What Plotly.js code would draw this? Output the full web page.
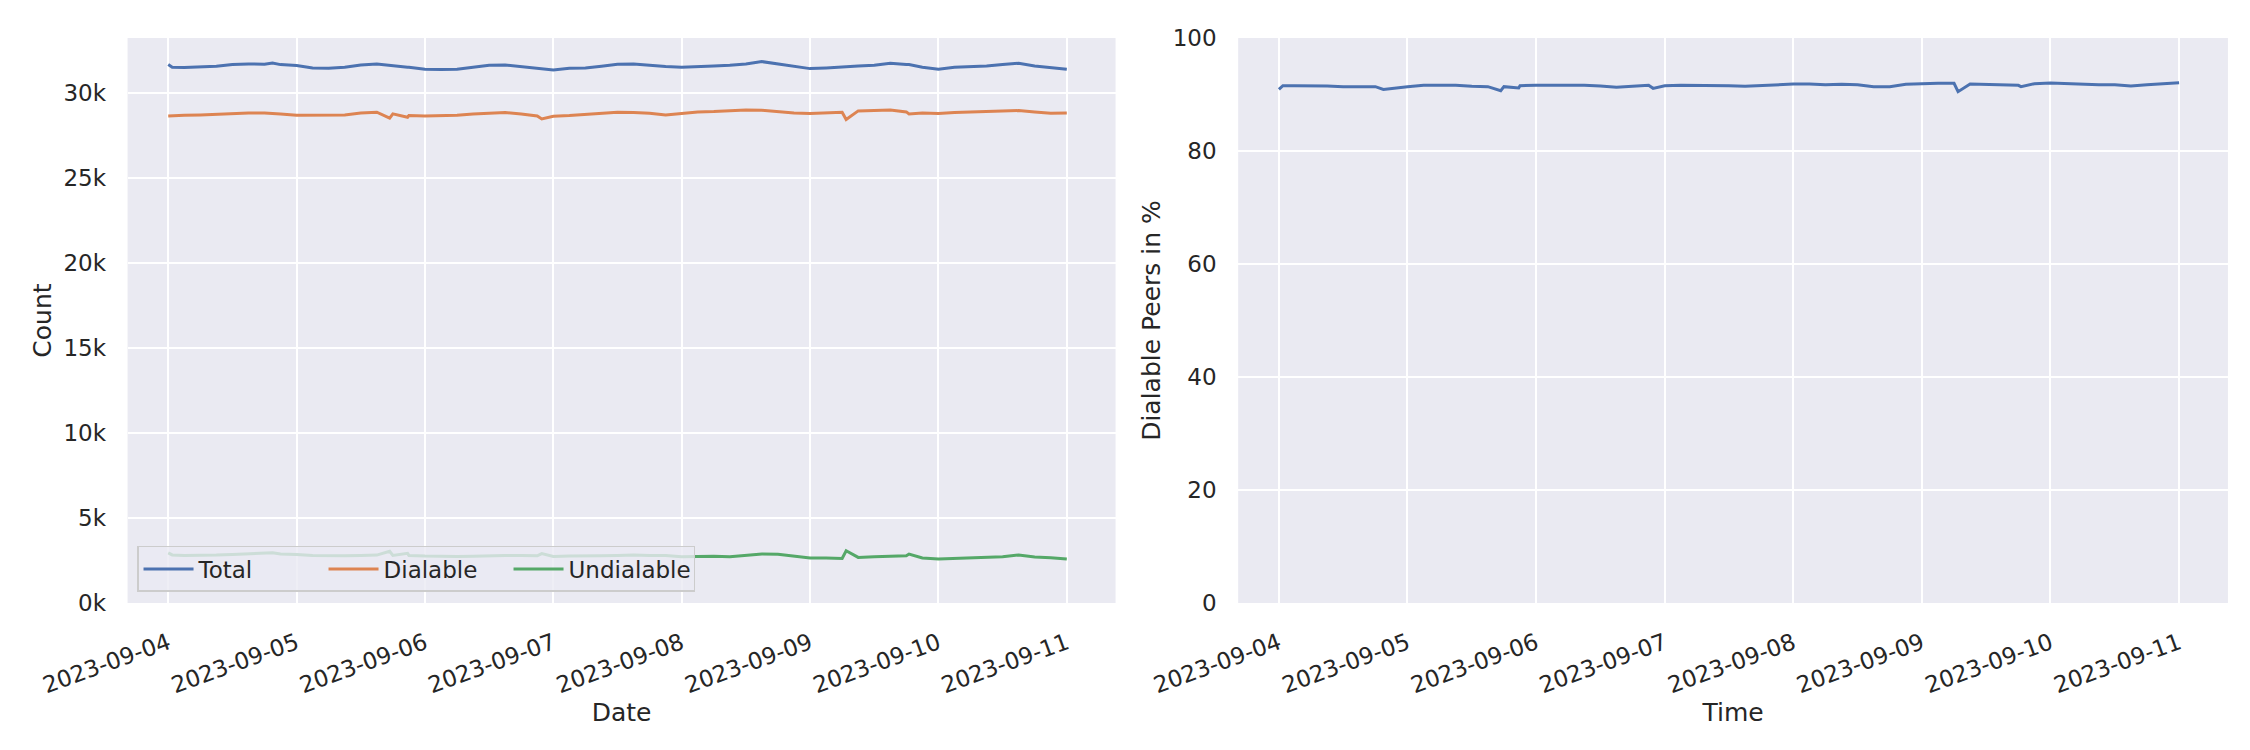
<!DOCTYPE html>
<html>
<head>
<meta charset="utf-8">
<script src="https://cdn.plot.ly/plotly-3.0.1.min.js"></script>
<style>
	html, body { margin : 0; padding : 0; background : #ffffff; }
	#peers { width : 2250px; height : 750px; }
</style>
</head>
<body>
<div id="peers"></div>
<script>
// 3-hourly readings, 2023-09-04 00:00 .. 2023-09-11 00:00
var times = [
	'2023-09-04 00:00', '2023-09-04 03:00', '2023-09-04 06:00', '2023-09-04 09:00', '2023-09-04 12:00', '2023-09-04 15:00', '2023-09-04 18:00', '2023-09-04 21:00',
	'2023-09-05 00:00', '2023-09-05 03:00', '2023-09-05 06:00', '2023-09-05 09:00', '2023-09-05 12:00', '2023-09-05 15:00', '2023-09-05 18:00', '2023-09-05 21:00',
	'2023-09-06 00:00', '2023-09-06 03:00', '2023-09-06 06:00', '2023-09-06 09:00', '2023-09-06 12:00', '2023-09-06 15:00', '2023-09-06 18:00', '2023-09-06 21:00',
	'2023-09-07 00:00', '2023-09-07 03:00', '2023-09-07 06:00', '2023-09-07 09:00', '2023-09-07 12:00', '2023-09-07 15:00', '2023-09-07 18:00', '2023-09-07 21:00',
	'2023-09-08 00:00', '2023-09-08 03:00', '2023-09-08 06:00', '2023-09-08 09:00', '2023-09-08 12:00', '2023-09-08 15:00', '2023-09-08 18:00', '2023-09-08 21:00',
	'2023-09-09 00:00', '2023-09-09 03:00', '2023-09-09 06:00', '2023-09-09 09:00', '2023-09-09 12:00', '2023-09-09 15:00', '2023-09-09 18:00', '2023-09-09 21:00',
	'2023-09-10 00:00', '2023-09-10 03:00', '2023-09-10 06:00', '2023-09-10 09:00', '2023-09-10 12:00', '2023-09-10 15:00', '2023-09-10 18:00', '2023-09-10 21:00',
	'2023-09-11 00:00'
];

var total = [
	31686, 31509, 31529, 31588, 31686, 31725, 31705, 31686,
	31627, 31490, 31470, 31529, 31666, 31725, 31607, 31529,
	31411, 31392, 31411, 31529, 31646, 31666, 31568, 31431,
	31372, 31470, 31490, 31588, 31705, 31725, 31627, 31568,
	31529, 31588, 31607, 31646, 31725, 31862, 31725, 31568,
	31450, 31490, 31568, 31607, 31646, 31764, 31686, 31529,
	31411, 31529, 31549, 31607, 31686, 31764, 31607, 31529,
	31411
];

var dialable = [
	28667, 28706, 28726, 28765, 28824, 28844, 28844, 28785,
	28706, 28706, 28706, 28726, 28844, 28883, 28785, 28687,
	28667, 28667, 28706, 28785, 28844, 28863, 28785, 28667,
	28648, 28687, 28765, 28804, 28883, 28863, 28824, 28726,
	28824, 28902, 28922, 28961, 29020, 29000, 28902, 28844,
	28804, 28844, 28883, 28961, 28981, 29020, 28902, 28844,
	28804, 28863, 28883, 28922, 28961, 28981, 28902, 28824,
	28844
];

var undialable = [
	2950, 2800, 2800, 2820, 2860, 2880, 2900, 2880,
	2860, 2790, 2770, 2780, 2800, 2820, 2800, 2800,
	2760, 2740, 2730, 2750, 2790, 2800, 2790, 2780,
	2740, 2770, 2760, 2780, 2800, 2830, 2800, 2790,
	2720, 2740, 2744, 2724, 2822, 2881, 2862, 2744,
	2646, 2646, 2626, 2685, 2724, 2764, 2783, 2646,
	2587, 2626, 2666, 2685, 2724, 2822, 2705, 2666,
	2587
];

var percent = [
	90.92, 91.56, 91.56, 91.50, 91.39, 91.45, 91.39, 91.09,
	91.39, 91.62, 91.62, 91.62, 91.45, 91.39, 91.39, 91.56,
	91.62, 91.62, 91.68, 91.62, 91.50, 91.27, 91.45, 91.62,
	91.56, 91.62, 91.62, 91.62, 91.56, 91.45, 91.62, 91.74,
	91.86, 91.86, 91.74, 91.80, 91.74, 91.39, 91.39, 91.80,
	91.92, 91.98, 91.98, 91.86, 91.74, 91.68, 91.62, 91.92,
	92.04, 91.92, 91.86, 91.74, 91.74, 91.50, 91.74, 91.86,
	92.09
];

// short dips / spikes between the 3-hourly readings
var eventTimes = ['2023-09-04 00:45', '2023-09-04 19:30', '2023-09-05 17:24', '2023-09-05 20:45', '2023-09-06 21:50', '2023-09-09 06:45', '2023-09-09 18:30'];
var eventTotal = [31529, 31784, 31627, 31529, 31411, 31588, 31686];
var eventDialable = [28687, 28824, 28530, 28589, 28491, 28452, 28785];
var eventUndialable = [2830, 2950, 3040, 2920, 2910, 3077, 2881];
var eventPercent = [91.56, 90.91, 90.68, 91.15, 91.09, 90.50, 91.39];

var yTickVals = [0, 5000, 10000, 15000, 20000, 25000, 30000];
var yTickText = ['0k', '5k', '10k', '15k', '20k', '25k', '30k'];

function merged(values, eventValues) {
	var rows = [];
	for (var i = 0; i < times.length; i++) {
		rows.push([times[i], values[i]]);
	}
	for (var j = 0; j < eventTimes.length; j++) {
		rows.push([eventTimes[j], eventValues[j]]);
	}
	rows.sort(function(a, b) { return a[0] < b[0] ? -1 : (a[0] > b[0] ? 1 : 0); });
	return {
		x : rows.map(function(r) { return r[0]; }),
		y : rows.map(function(r) { return r[1]; })
	};
}

var fontFamily = 'DejaVu Sans, sans-serif';
var textColor = '#262626';

function lineTrace(name, values, eventValues, color, xa, ya, legend) {
	var m = merged(values, eventValues);
	return {
		x : m.x,
		y : m.y,
		xaxis : xa,
		yaxis : ya,
		type : 'scatter',
		mode : 'lines',
		name : name,
		showlegend : legend,
		line : {
			color : color,
			width : 3
		}
	};
}

var data = [
	lineTrace('Total', total, eventTotal, '#4C72B0', 'x', 'y', true),
	lineTrace('Dialable', dialable, eventDialable, '#DD8452', 'x', 'y', true),
	lineTrace('Undialable', undialable, eventUndialable, '#55A868', 'x', 'y', true),
	lineTrace('Dialable Peers', percent, eventPercent, '#4C72B0', 'x2', 'y2', false)
];

function dateAxis(domain, anchor, titleText) {
	return {
		domain : domain,
		anchor : anchor,
		type : 'date',
		range : ['2023-09-03 16:24', '2023-09-11 09:07'],
		tick0 : '2023-09-04',
		dtick : 86400000,
		tickformat : '%Y-%m-%d',
		tickangle : -20,
		ticks : 'outside',
		ticklen : 17,
		tickcolor : 'rgba(0,0,0,0)',
		tickfont : { family : fontFamily, size : 23, color : textColor },
		showgrid : true,
		gridcolor : '#ffffff',
		gridwidth : 2,
		zeroline : false,
		showline : false,
		title : {
			text : titleText,
			font : { family : fontFamily, size : 25, color : textColor },
			standoff : 4
		}
	};
}

function valueAxis(domain, anchor, titleText) {
	return {
		domain : domain,
		anchor : anchor,
		ticks : 'outside',
		ticklen : 16,
		tickcolor : 'rgba(0,0,0,0)',
		tickfont : { family : fontFamily, size : 23, color : textColor },
		showgrid : true,
		gridcolor : '#ffffff',
		gridwidth : 2,
		zeroline : false,
		showline : false,
		title : {
			text : titleText,
			font : { family : fontFamily, size : 25, color : textColor },
			standoff : 4
		}
	};
}

var yaxis = valueAxis([0.196, 0.9493], 'x', 'Count');
yaxis.range = [0, 33250];
yaxis.tickmode = 'array';
yaxis.tickvals = yTickVals;
yaxis.ticktext = yTickText;

var yaxis2 = valueAxis([0.196, 0.9493], 'x2', 'Dialable Peers in %');
yaxis2.range = [0, 100];
yaxis2.dtick = 20;

var layout = {
	width : 2250,
	height : 750,
	margin : { l : 0, r : 0, t : 0, b : 0 },
	paper_bgcolor : '#ffffff',
	plot_bgcolor : '#EAEAF2',
	font : { family : fontFamily, color : textColor },
	xaxis : dateAxis([0.0567, 0.4958], 'y', 'Date'),
	yaxis : yaxis,
	xaxis2 : dateAxis([0.5503, 0.9902], 'y2', 'Time'),
	yaxis2 : yaxis2,
	showlegend : true,
	legend : {
		orientation : 'h',
		x : 0.0609,
		y : 0.2107,
		xanchor : 'left',
		yanchor : 'bottom',
		itemwidth : 50,
		entrywidth : 120,
		entrywidthmode : 'pixels',
		bgcolor : 'rgba(234,234,242,0.8)',
		bordercolor : '#cccccc',
		borderwidth : 1.5,
		font : { family : fontFamily, size : 23, color : textColor }
	}
};

var config = {
	displayModeBar : false,
	staticPlot : true
};
Plotly.newPlot(document.getElementById('peers'), data, layout, config);
</script>
</body>
</html>
